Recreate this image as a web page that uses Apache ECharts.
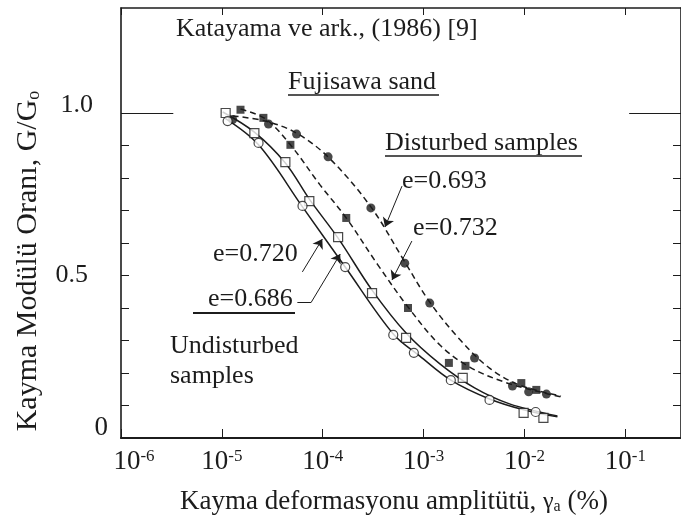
<!DOCTYPE html>
<html>
<head>
<meta charset="utf-8">
<script src="https://cdn.jsdelivr.net/npm/echarts@6/dist/echarts.min.js"></script>
<style>
  html, body { margin: 0; background: #fff; }
  #chart { width: 681px; height: 528px; }
</style>
</head>
<body>
<div id="chart"></div>
<script>
// measured points (shear strain %, G/Go)
var dist693Pts = [[1.28e-5, 0.98], [2.9e-5, 0.966], [5.5e-5, 0.935], [1.13e-4, 0.865], [3.0e-4, 0.708], [6.5e-4, 0.538],
  [1.15e-3, 0.415], [3.2e-3, 0.246], [7.6e-3, 0.16], [1.1e-2, 0.142], [1.65e-2, 0.135]];
var dist732Pts = [[1.53e-5, 1.01], [2.58e-5, 0.985], [4.78e-5, 0.902], [1.71e-4, 0.677], [7.0e-4, 0.40], [1.78e-3, 0.231],
  [2.6e-3, 0.222], [9.3e-3, 0.169], [1.31e-2, 0.148]];
var und720Pts = [[1.09e-5, 1.0], [2.1e-5, 0.938], [4.26e-5, 0.849], [7.36e-5, 0.729], [1.42e-4, 0.618], [3.08e-4, 0.446],
  [6.7e-4, 0.308], [2.44e-3, 0.185], [9.8e-3, 0.077], [1.54e-2, 0.062]];
var und686Pts = [[1.14e-5, 0.975], [2.31e-5, 0.908], [6.3e-5, 0.714], [1.67e-4, 0.526], [5.0e-4, 0.317], [8.0e-4, 0.262],
  [1.86e-3, 0.178], [4.5e-3, 0.117], [1.29e-2, 0.08]];

// fitted curves as drawn in the figure
var dist693Fit = [[1.28e-5, 0.991], [2.7e-5, 0.975], [5.5e-5, 0.938], [1.17e-4, 0.86], [3.0e-4, 0.711], [6.5e-4, 0.542],
  [1.15e-3, 0.418], [2.3e-3, 0.302], [4.5e-3, 0.215], [8.9e-3, 0.163], [2.3e-2, 0.129]];
var dist732Fit = [[1.53e-5, 1.012], [2.7e-5, 0.982], [4.78e-5, 0.902], [9.44e-5, 0.778], [1.71e-4, 0.677], [3.53e-4, 0.532],
  [7.0e-4, 0.403], [1.45e-3, 0.286], [2.86e-3, 0.218], [6.34e-3, 0.172], [1.41e-2, 0.142], [2.32e-2, 0.126]];
var und720Fit = [[1.02e-5, 1.003], [2.1e-5, 0.941], [4.26e-5, 0.846], [7.36e-5, 0.735], [1.42e-4, 0.615], [3.08e-4, 0.455],
  [6.7e-4, 0.323], [1.45e-3, 0.228], [3.2e-3, 0.154], [7.1e-3, 0.105], [2.12e-2, 0.068]];
var und686Fit = [[1.06e-5, 0.985], [2.31e-5, 0.902], [6.3e-5, 0.711], [1.67e-4, 0.526], [5.0e-4, 0.32], [9.18e-4, 0.252],
  [1.86e-3, 0.178], [4.5e-3, 0.12], [1.0e-2, 0.086], [2.12e-2, 0.065]];

// leader lines from the e= labels to the curves
var leader693 = [[6.1e-4, 0.775], [4.14e-4, 0.649]];
var leader732 = [[7.65e-4, 0.606], [4.86e-4, 0.486]];
var leader720 = [[6.28e-5, 0.511], [9.9e-5, 0.612]];
var leader686 = [[5.6e-5, 0.418], [7.7e-5, 0.418], [1.49e-4, 0.566]];

var yTickVals = [0, 0.1, 0.2, 0.3, 0.4, 0.5, 0.6, 0.7, 0.8, 0.9, 1.0];
var yLabelVals = [0, 0.5, 1.0];

var FONT = '"Liberation Serif", "Times New Roman", serif';
var INK = '#1c1c1c';
var xMin = 1e-6, xMax = 0.356, yMax = 1.323;

var myChart = echarts.init(document.getElementById('chart'));

function seg(a, b, arrow) {
  return [{ coord: a, symbol: 'none' }, { coord: b, symbol: arrow ? 'arrow' : 'none' }];
}

var lineBase = { type: 'line', smooth: 0.35, showSymbol: false, silent: true, z: 2 };

var option = {
  animation: false,
  backgroundColor: '#fff',
  grid: { left: 121, top: 8, width: 562, bottom: 90 },
  xAxis: [{
    type: 'log', min: xMin, max: xMax, position: 'bottom',
    axisLine: { show: true, onZero: false, lineStyle: { color: INK, width: 2.2 } },
    axisTick: { show: true, inside: true, length: 9, lineStyle: { color: INK, width: 1 } },
    splitLine: { show: false },
    axisLabel: {
      margin: 10, showMaxLabel: false, color: INK, fontFamily: FONT,
      formatter: function (v) {
        var lg = Math.log10(v), n = Math.round(lg);
        if (Math.abs(lg - n) > 1e-6) return '';
        return '{' + (n === -6 ? 'b0' : 'b') + '|10}{s|' + n + '}';
      },
      rich: {
        b: { fontSize: 27, fontFamily: FONT, color: INK },
        b0: { fontSize: 27, fontFamily: FONT, color: INK, padding: [0, 0, 0, 26] },
        s: { fontSize: 17, fontFamily: FONT, color: INK, verticalAlign: 'top' }
      }
    },
    name: '{t|Kayma deformasyonu amplitütü, }{g|γ}{sub|a}{t| (%)}',
    nameLocation: 'middle', nameGap: 50,
    nameTextStyle: {
      padding: [0, 14, 0, 0],
      rich: {
        t: { fontSize: 27, fontFamily: FONT, color: INK },
        g: { fontSize: 24, fontFamily: FONT, color: INK },
        sub: { fontSize: 16, fontFamily: FONT, color: INK, verticalAlign: 'bottom' }
      }
    }
  }, {
    type: 'log', min: xMin, max: xMax, position: 'top',
    axisLine: { show: true, onZero: false, lineStyle: { color: INK, width: 1.6 } },
    axisTick: { show: true, inside: true, length: 7, lineStyle: { color: INK, width: 1 } },
    axisLabel: { show: false },
    splitLine: { show: false }
  }],
  yAxis: [{
    type: 'value', min: 0, max: yMax, position: 'left',
    axisLine: { show: true, onZero: false, lineStyle: { color: INK, width: 1.6 } },
    axisTick: { show: true, inside: true, length: 8, customValues: yTickVals, lineStyle: { color: INK, width: 1 } },
    splitLine: { show: false },
    axisLabel: {
      customValues: yLabelVals, margin: 13,
      formatter: function (v) {
        if (v === 0) return '{z|0}';
        if (v === 1) return '{one|1.0}';
        return '{half|0.5}';
      },
      rich: {
        z: { fontSize: 27, fontFamily: FONT, color: INK, padding: [0, 0, 20, 0] },
        one: { fontSize: 26, fontFamily: FONT, color: INK, padding: [0, 15, 16, 0] },
        half: { fontSize: 26, fontFamily: FONT, color: INK, padding: [0, 20, 0, 0] }
      }
    },
    name: '{t|Kayma Modülü Oranı, G/G}{sub|o}',
    nameLocation: 'middle', nameRotate: 90, nameGap: 78,
    nameTextStyle: {
      padding: [0, 76, 0, 0],
      rich: {
        t: { fontSize: 30, fontFamily: FONT, color: INK },
        sub: { fontSize: 18, fontFamily: FONT, color: INK, verticalAlign: 'bottom' }
      }
    }
  }, {
    type: 'value', min: 0, max: yMax, position: 'right',
    axisLine: { show: true, onZero: false, lineStyle: { color: INK, width: 1.6 } },
    axisTick: { show: true, inside: true, length: 8, customValues: yTickVals, lineStyle: { color: INK, width: 1 } },
    axisLabel: { show: false },
    splitLine: { show: false }
  }],
  graphic: [
    { type: 'text', x: 176, y: 29, style: { text: 'Katayama ve ark., (1986) [9]', font: '26px ' + FONT, fill: INK, verticalAlign: 'middle' } },
    { type: 'text', x: 288, y: 82, style: { text: 'Fujisawa sand', font: '26px ' + FONT, fill: INK, verticalAlign: 'middle' } },
    { type: 'line', shape: { x1: 288, y1: 95, x2: 439, y2: 95 }, style: { stroke: INK, lineWidth: 1.5 } },
    { type: 'text', x: 385, y: 143, style: { text: 'Disturbed samples', font: '26px ' + FONT, fill: INK, verticalAlign: 'middle' } },
    { type: 'line', shape: { x1: 385, y1: 156, x2: 582, y2: 156 }, style: { stroke: INK, lineWidth: 1.5 } },
    { type: 'text', x: 402, y: 181, style: { text: 'e=0.693', font: '26px ' + FONT, fill: INK, verticalAlign: 'middle' } },
    { type: 'text', x: 413, y: 228, style: { text: 'e=0.732', font: '26px ' + FONT, fill: INK, verticalAlign: 'middle' } },
    { type: 'text', x: 213, y: 254, style: { text: 'e=0.720', font: '26px ' + FONT, fill: INK, verticalAlign: 'middle' } },
    { type: 'text', x: 208, y: 299, style: { text: 'e=0.686', font: '26px ' + FONT, fill: INK, verticalAlign: 'middle' } },
    { type: 'line', shape: { x1: 193, y1: 313, x2: 295, y2: 313 }, style: { stroke: INK, lineWidth: 2 } },
    { type: 'text', x: 170, y: 346, style: { text: 'Undisturbed', font: '26px ' + FONT, fill: INK, verticalAlign: 'middle' } },
    { type: 'text', x: 170, y: 376, style: { text: 'samples', font: '26px ' + FONT, fill: INK, verticalAlign: 'middle' } }
  ],
  series: [
    Object.assign({}, lineBase, {
      name: 'e=0.693', data: dist693Fit,
      lineStyle: { color: INK, width: 1.5, type: [6, 4] },
      markLine: {
        silent: true, symbolSize: 9, label: { show: false },
        lineStyle: { color: INK, width: 1, type: 'solid' },
        data: [
          seg(leader693[0], leader693[1], true),
          seg(leader732[0], leader732[1], true),
          seg(leader720[0], leader720[1], true),
          seg(leader686[0], leader686[1], false),
          seg(leader686[1], leader686[2], true),
          seg([xMin, 1.0], [3.3e-6, 1.0], false),
          seg([0.109, 1.0], [xMax, 1.0], false)
        ]
      }
    }),
    Object.assign({}, lineBase, { name: 'e=0.732', data: dist732Fit, lineStyle: { color: INK, width: 1.5, type: [6, 4] } }),
    Object.assign({}, lineBase, { name: 'e=0.720', data: und720Fit, lineStyle: { color: INK, width: 1.5 } }),
    Object.assign({}, lineBase, { name: 'e=0.686', data: und686Fit, lineStyle: { color: INK, width: 1.5 } }),
    { type: 'scatter', data: dist693Pts, symbol: 'circle', symbolSize: 9, itemStyle: { color: INK }, z: 3 },
    { type: 'scatter', data: dist732Pts, symbol: 'rect', symbolSize: 8, itemStyle: { color: INK }, z: 3 },
    { type: 'scatter', data: und720Pts, symbol: 'rect', symbolSize: 9, itemStyle: { color: '#fff', borderColor: INK, borderWidth: 1.2 }, z: 3 },
    { type: 'scatter', data: und686Pts, symbol: 'circle', symbolSize: 9, itemStyle: { color: '#fff', borderColor: INK, borderWidth: 1.2 }, z: 3 }
  ]
};
myChart.setOption(option);
</script>
</body>
</html>
